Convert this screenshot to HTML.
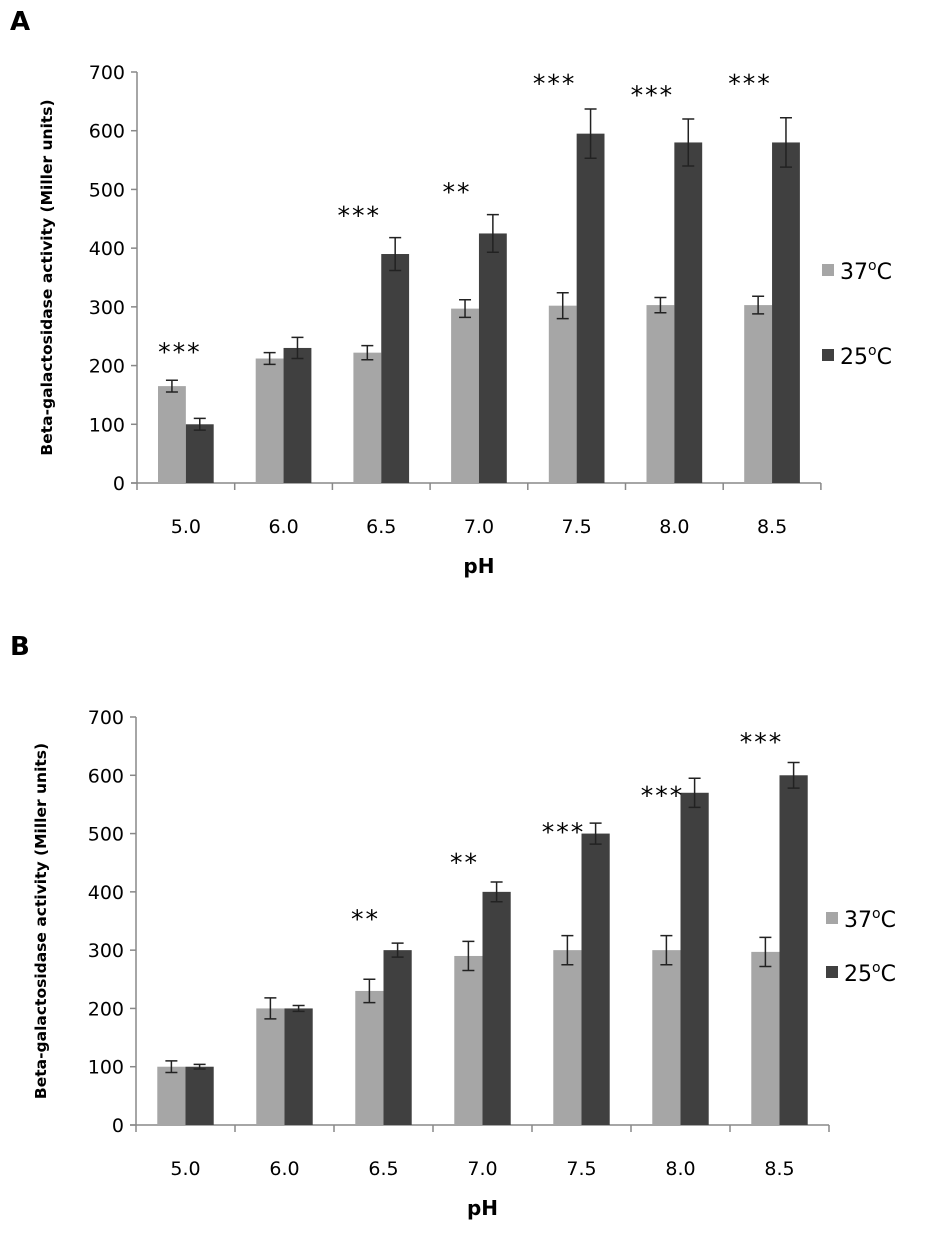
<!DOCTYPE html>
<html><head><meta charset="utf-8"><style>
body{margin:0;background:#fff;font-family:"Liberation Sans",sans-serif}
svg text{font-family:"DejaVu Sans","Liberation Sans",sans-serif}
</style></head><body>
<svg id="s" width="945" height="1241"></svg>
<script>
const categories=["5.0","6.0","6.5","7.0","7.5","8.0","8.5"];
const yTicks=[0,100,200,300,400,500,600,700];
const a37=[165,212,222,297,302,303,303];
const a37err=[10,10,12,15,22,13,15];
const a25=[100,230,390,425,595,580,580];
const a25err=[10,18,28,32,42,40,42];
const aStars=["***","","***","**","***","***","***"];
const aStarVal=[227,0,460,500,685,665,685];
const b37=[100,200,230,290,300,300,297];
const b37err=[10,18,20,25,25,25,25];
const b25=[100,200,300,400,500,570,600];
const b25err=[4,5,12,17,18,25,22];
const bStars=["","","**","**","***","***","***"];
const bStarVal=[0,0,358,455,507,570,661];
const NS="http://www.w3.org/2000/svg";
const svg=document.getElementById('s');
function mk(t,at,txt){const e=document.createElementNS(NS,t);for(const k in at)e.setAttribute(k,at[k]);if(txt!==undefined)e.textContent=txt;svg.appendChild(e);return e;}
function panel(p){
 const yS=v=>p.y0-v*(p.y0-p.y700)/700;
 const xS=i=>p.x0+i*p.step;
 let e=mk('text',{x:10,y:p.letterY,'font-size':26,'font-weight':'bold'},p.letter);
 
 
 e=mk('line',{x1:p.x0,y1:p.y700,x2:p.x0,y2:p.y0,stroke:'#888','stroke-width':1.5});
 
 
 e=mk('line',{x1:p.x0-6,y1:p.y0,x2:xS(7),y2:p.y0,stroke:'#888','stroke-width':1.5});
 
 
 yTicks.forEach(v=>{
  mk('line',{x1:p.x0-6,x2:p.x0,y1:yS(v),y2:yS(v),stroke:'#888','stroke-width':1.5});
  e=mk('text',{x:p.x0-12,y:yS(v)+7,'text-anchor':'end','font-size':19},v);
  
  
 });
 for(let i=0;i<=7;i++)mk('line',{x1:xS(i),x2:xS(i),y1:p.y0,y2:p.y0+7,stroke:'#888','stroke-width':1.5});
 const bw=p.step*0.285;
 categories.forEach((c,i)=>{
  const cx=xS(i)+p.step/2;
  e=mk('text',{x:cx,y:p.y0+50,'text-anchor':'middle','font-size':19},c);
  
  
  [[p.s37,p.e37,'#a6a6a6',cx-bw],[p.s25,p.e25,'#404040',cx]].forEach(([s,er,col,x],k)=>{
   e=mk('rect',{x:x,y:yS(s[i]),width:bw,height:p.y0-yS(s[i]),fill:col});
   
   
   const m=x+bw/2,t=yS(s[i]+er[i]),b=yS(s[i]-er[i]);
   mk('path',{d:`M${m},${t}V${b}M${m-6},${t}H${m+6}M${m-6},${b}H${m+6}`,stroke:'#222','stroke-width':1.5,fill:'none'});
  });
  if(p.stars[i]){
   e=mk('text',{x:cx-(i?p.starOff:6),y:yS(p.starVal[i])+11,'text-anchor':'middle','font-size':25,'letter-spacing':2},p.stars[i]);
   
   
  }
 });
 e=mk('text',{x:xS(3.5),y:p.y0+90,'text-anchor':'middle','font-size':20,'font-weight':'bold'},'pH');
 
 
 const ym=(p.y0+p.y700)/2;
 e=mk('text',{x:0,y:0,'text-anchor':'middle','font-size':15.5,'font-weight':'bold',transform:`translate(${p.titleX},${ym}) rotate(-90)`},'Beta-galactosidase activity (Miller units)');
 
 
 [['37','#a6a6a6',p.leg37],['25','#404040',p.leg25]].forEach(([t,col,y])=>{
  const g=mk('rect',{x:p.legX,y:y-6,width:12,height:12,fill:col});
  
  
  const tx=mk('text',{x:p.legX+18,y:y+9,'font-size':22});
  
  
  tx.innerHTML=t+'<tspan dy="-9" font-size="14">o</tspan><tspan dy="9">C</tspan>';
 });
}
panel({letter:'A',letterY:30,x0:137,step:97.7,y0:483,y700:72,s37:a37,e37:a37err,s25:a25,e25:a25err,stars:aStars,starVal:aStarVal,starOff:22,titleX:52,legX:822,leg37:270,leg25:355});
panel({letter:'B',letterY:655,x0:136,step:99,y0:1125,y700:717,s37:b37,e37:b37err,s25:b25,e25:b25err,stars:bStars,starVal:bStarVal,starOff:18,titleX:46,legX:826,leg37:918,leg25:972});
</script></body></html>
